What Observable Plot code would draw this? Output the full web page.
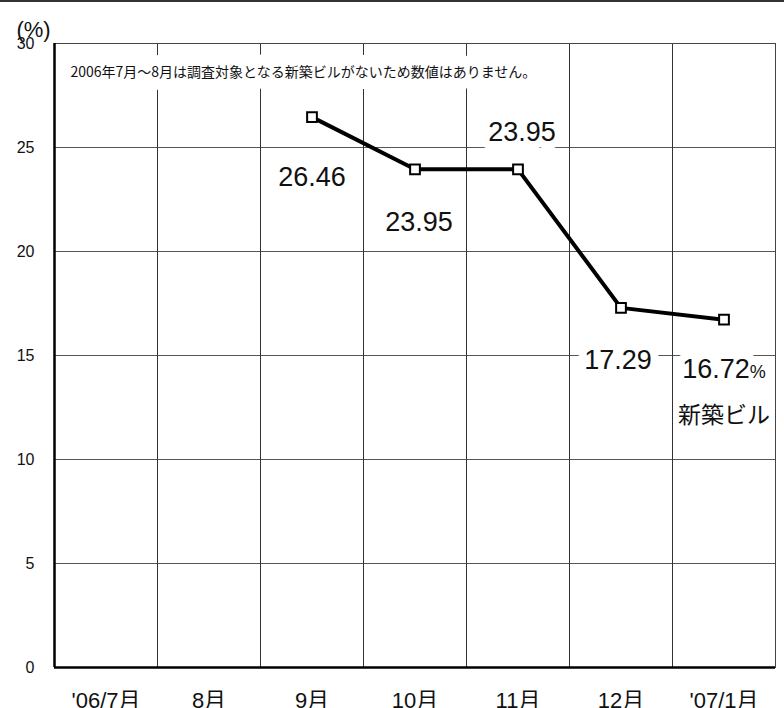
<!DOCTYPE html>
<html><head><meta charset="utf-8">
<script src="https://cdn.jsdelivr.net/npm/d3@7"></script>
<script src="https://cdn.jsdelivr.net/npm/@observablehq/plot@0.6"></script>
<style>
body{margin:0;background:#fff;}
#wrap{position:relative;width:784px;height:708px;overflow:hidden;}
#topline{position:absolute;left:0;top:0;width:784px;height:2px;background:#333;}
svg{font-family:"Liberation Sans Narrow","Liberation Sans","Noto Sans CJK JP",sans-serif;}
</style></head>
<body><div id="wrap"><div id="topline"></div></div>
<script>
const months = ["'06/7月","8月","9月","10月","11月","12月","'07/1月"];
const values = [null,null,26.46,23.95,23.95,17.29,16.72];
const valueLabels = ["","","26.46","23.95","23.95","17.29","16.72%"];
const seriesName = "新築ビル";
const note = "2006年7月～8月は調査対象となる新築ビルがないため数値はありません。";
const yTicks = [0,5,10,15,20,25,30];

const data = months.map((m,i)=>({i, x:i+0.5, month:m, v:values[i], label:valueLabels[i]}));
const pts = data.filter(d=>d.v!=null);
const bounds = d3.range(1, months.length);
const hGrid = yTicks.filter(t=>t>0 && t<30);

const labelFont = {fontSize:27, fill:"#111", stroke:"white", strokeWidth:16};
const lab = (m, dy, dx=0) => Plot.text(pts.filter(d=>d.month===m), {x:"x", y:"v", text:"label", dy, dx, ...labelFont});

const chart = Plot.plot({
  width:784, height:708,
  marginLeft:54, marginRight:9, marginTop:43, marginBottom:41,
  x:{domain:[0,months.length], axis:null},
  y:{domain:[0,30], axis:null},
  marks:[
    Plot.ruleY(hGrid, {stroke:"#555", strokeWidth:1}),
    Plot.ruleX(bounds, {stroke:"#333", strokeWidth:1}),
    Plot.frame({stroke:"#444", strokeWidth:1}),
    Plot.ruleX([0], {stroke:"#000", strokeWidth:2.5}),
    Plot.ruleY([0], {stroke:"#000", strokeWidth:2.5}),
    Plot.axisX(data.map(d=>d.x), {tickSize:0, tickPadding:25, fontSize:22, label:null, tickFormat:(t)=>months[Math.floor(t)], fill:"#111"}),
    Plot.axisY(yTicks, {tickSize:0, tickPadding:20, fontSize:16, label:null, fill:"#111"}),
    Plot.text(["(%)"], {frameAnchor:"top-left", textAnchor:"middle", lineAnchor:"middle", dx:-21, dy:-14, fontSize:22, fill:"#111"}),
    Plot.text([note], {frameAnchor:"top-left", textAnchor:"start", lineAnchor:"middle", dx:16, dy:29, fontSize:14, fill:"#111", stroke:"white", strokeWidth:22, fontFamily:"'Noto Sans CJK JP',sans-serif"}),
    Plot.line(pts, {x:"x", y:"v", stroke:"#000", strokeWidth:4}),
    Plot.dot(pts, {x:"x", y:"v", symbol:"square", r:5.5, fill:"white", stroke:"#000", strokeWidth:2}),
    lab("9月", 60),
    lab("10月", 53, 4),
    lab("11月", -37, 4),
    lab("12月", 52, -3),
    lab("'07/1月", 50),
    Plot.text(pts.slice(-1), {x:"x", y:"v", text:()=>seriesName, dy:96, fontSize:23, fill:"#111", fontFamily:"'Noto Sans CJK JP',sans-serif"})
  ]
});
document.getElementById("wrap").prepend(chart);
d3.select(chart).selectAll("text").each(function(){
  const t = d3.select(this);
  if (this.textContent === "16.72%") {
    t.text("16.72");
    t.append("tspan").attr("font-size", 18).attr("stroke", "none").text("%");
  }
});
</script>
</body></html>
